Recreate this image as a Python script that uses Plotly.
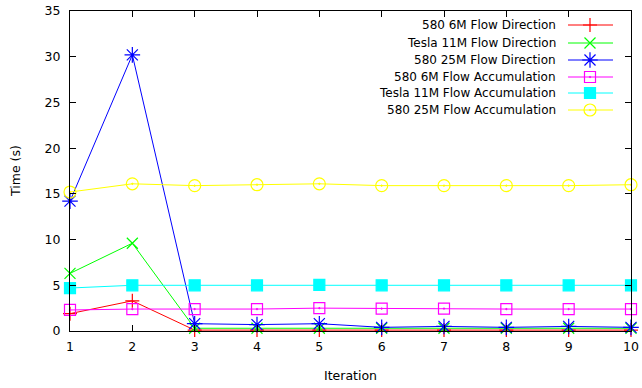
import plotly.graph_objects as go

iterations = [1, 2, 3, 4, 5, 6, 7, 8, 9, 10]
fd_580_6m = [1.9, 3.3, 0.1, 0.1, 0.1, 0.1, 0.1, 0.1, 0.1, 0.1]
fd_tesla_11m = [6.3, 9.6, 0.3, 0.3, 0.3, 0.3, 0.3, 0.3, 0.3, 0.3]
fd_580_25m = [14.2, 30.2, 0.8, 0.7, 0.8, 0.4, 0.5, 0.4, 0.5, 0.4]
fa_580_6m = [2.3, 2.4, 2.4, 2.4, 2.5, 2.45, 2.45, 2.4, 2.4, 2.4]
fa_tesla_11m = [4.7, 5.0, 5.0, 5.0, 5.05, 5.0, 5.0, 5.0, 5.0, 5.0]
fa_580_25m = [15.2, 16.1, 15.9, 16.0, 16.1, 15.9, 15.9, 15.9, 15.9, 16.0]

names = ["580 6M Flow Direction", "Tesla 11M Flow Direction", "580 25M Flow Direction",
         "580 6M Flow Accumulation", "Tesla 11M Flow Accumulation", "580 25M Flow Accumulation"]
series = [fd_580_6m, fd_tesla_11m, fd_580_25m, fa_580_6m, fa_tesla_11m, fa_580_25m]
colors = ["#ff0000", "#00ff00", "#0000ff", "#ff00ff", "#00ffff", "#ffff00"]
symbols = ["cross-thin", "x-thin", "asterisk", "square-open-dot", "square", "circle-open-dot"]
sizes = [10, 11, 13, 11, 11, 12]

W, H = 642, 388
L, R, T, B = 70, 631, 11, 331
FONT = "DejaVu Sans"

fig = go.Figure()
for name, ys, c, s, sz in zip(names, series, colors, symbols, sizes):
    fig.add_trace(go.Scatter(
        x=iterations, y=ys, mode="lines+markers", name=name,
        line=dict(color=c, width=1),
        marker=dict(symbol=s, size=sz, color=c, line=dict(color=c, width=1.2)),
        cliponaxis=False, showlegend=False))

pw, ph = R - L, B - T
def px(x):
    return (x - L) / pw
def py(y):
    return (B - y) / ph

# manual gnuplot-style legend (text right, sample to the right)
row_y = [25, 43, 60, 77, 93, 110]
for name, c, s, sz, yy in zip(names, colors, symbols, sizes, row_y):
    fig.add_annotation(x=px(558), y=py(yy), xref="paper", yref="paper",
                       text=name, showarrow=False, xanchor="right", yanchor="middle",
                       font=dict(family=FONT, size=12, color="#000000"))
    fig.add_shape(type="line", xref="paper", yref="paper",
                  x0=px(568), x1=px(613), y0=py(yy), y1=py(yy),
                  line=dict(color=c, width=1))
    fig.add_trace(go.Scatter(x=[px(590)], y=[py(yy)], xaxis="x2", yaxis="y2",
                             mode="markers", showlegend=False, hoverinfo="skip",
                             marker=dict(symbol=s, size=sz, color=c, line=dict(color=c, width=1.2))))

# axis titles
fig.add_annotation(x=px(350), y=py(375), xref="paper", yref="paper", text="Iteration",
                   showarrow=False, xanchor="center", yanchor="middle",
                   font=dict(family=FONT, size=12.5, color="#000000"))
fig.add_annotation(x=px(15), y=py(171), xref="paper", yref="paper", text="Time (s)",
                   showarrow=False, xanchor="center", yanchor="middle", textangle=-90,
                   font=dict(family=FONT, size=12.5, color="#000000"))

fig.update_layout(
    width=W, height=H,
    margin=dict(l=L, r=W - R, t=T, b=H - B, autoexpand=False),
    paper_bgcolor="white", plot_bgcolor="white",
    font=dict(family=FONT, size=12.5, color="#000000"),
    showlegend=False,
    xaxis=dict(range=[1, 10], tickvals=iterations, ticks="inside", ticklen=6,
               tickcolor="black", showline=True, linecolor="black", linewidth=1,
               mirror="ticks", showgrid=False, zeroline=False, automargin=False,
               ticklabeloverflow="allow", ticklabelstandoff=4),
    yaxis=dict(range=[0, 35], dtick=5, ticks="inside", ticklen=6,
               tickcolor="black", showline=True, linecolor="black", linewidth=1,
               mirror="ticks", showgrid=False, zeroline=False, automargin=False,
               ticklabeloverflow="allow", ticklabelstandoff=6),
    xaxis2=dict(range=[0, 1], overlaying="x", visible=False),
    yaxis2=dict(range=[0, 1], overlaying="y", visible=False),
)

fig.write_html("out.html", config={"displayModeBar": False},
               post_script="document.body.style.margin='0';document.body.style.overflow='hidden';")
